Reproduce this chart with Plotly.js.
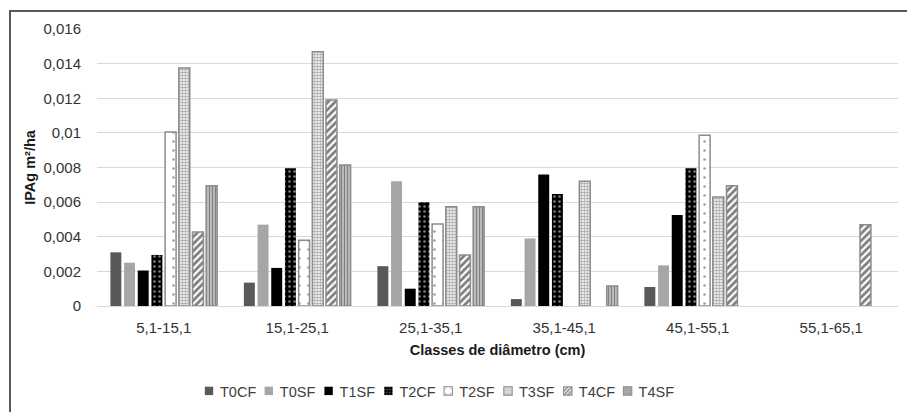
<!DOCTYPE html>
<html>
<head>
<meta charset="utf-8">
<script src="https://cdn.plot.ly/plotly-3.0.1.min.js"></script>
<style>
  html, body { margin: 0; padding: 0; background: #fff; }
  #wrap { position: relative; width: 907px; height: 412px; overflow: hidden; }
  #chart { position: absolute; left: 0; top: 0; width: 907px; height: 412px; }
  #frame { position: absolute; left: 9px; top: 10px; width: 920px; height: 420px;
           border-left: 2px solid #5a5a5a; border-top: 2px solid #5a5a5a; pointer-events: none; }
</style>
</head>
<body>
<div id="wrap">
  <div id="chart"></div>
  <div id="frame"></div>
</div>
<script>
const categories = ["5,1-15,1", "15,1-25,1", "25,1-35,1", "35,1-45,1", "45,1-55,1", "55,1-65,1"];
const seriesNames = ["T0CF", "T0SF", "T1SF", "T2CF", "T2SF", "T3SF", "T4CF", "T4SF"];

const T0CF = [0.0031, 0.00135, 0.0023, 0.0004, 0.0011, null];
const T0SF = [0.0025, 0.0047, 0.0072, 0.0039, 0.00235, null];
const T1SF = [0.00205, 0.0022, 0.001, 0.0076, 0.00525, null];
const T2CF = [0.00295, 0.00795, 0.006, 0.00647, 0.00795, null];
const T2SF = [0.01005, 0.0038, 0.00474, null, 0.00986, null];
const T3SF = [0.01375, 0.01468, 0.00574, 0.0072, 0.0063, null];
const T4CF = [0.00427, 0.0119, 0.00295, null, 0.00695, 0.0047];
const T4SF = [0.00695, 0.00814, 0.00574, 0.00116, null, null];

const yTickVals = [0, 0.002, 0.004, 0.006, 0.008, 0.01, 0.012, 0.014, 0.016];
const yTickText = ["0", "0,002", "0,004", "0,006", "0,008", "0,01", "0,012", "0,014", "0,016"];

const values = [T0CF, T0SF, T1SF, T2CF, T2SF, T3SF, T4CF, T4SF];

const styles = [
  { color: "#595959", line: { color: "#595959", width: 0 } },
  { color: "#a6a6a6", line: { color: "#a6a6a6", width: 0 } },
  { color: "#000000", line: { color: "#000000", width: 0 } },
  { color: "#000000", line: { color: "#000000", width: 0 },
    pattern: { shape: ".", fgcolor: "#ffffff", bgcolor: "#000000", size: 5, solidity: 0.2, fillmode: "overlay" } },
  { color: "#ffffff", line: { color: "#8c8c8c", width: 1.5 },
    pattern: { shape: ".", fgcolor: "#333333", bgcolor: "#ffffff", size: 9, solidity: 0.06, fillmode: "overlay" } },
  { color: "#ffffff", line: { color: "#8c8c8c", width: 1.5 },
    pattern: { shape: ".", fgcolor: "#555555", bgcolor: "#ffffff", size: 3, solidity: 0.6, fillmode: "overlay" } },
  { color: "#ffffff", line: { color: "#8c8c8c", width: 1.5 },
    pattern: { shape: "/", fgcolor: "#000000", bgcolor: "#ffffff", size: 5, solidity: 0.55, fillmode: "overlay" } },
  { color: "#ffffff", line: { color: "#8c8c8c", width: 1.5 },
    pattern: { shape: "|", fgcolor: "#000000", bgcolor: "#ffffff", size: 3, solidity: 0.7, fillmode: "overlay" } }
];

const traces = seriesNames.map((name, i) => ({
  type: "bar",
  name: name,
  x: categories,
  y: values[i],
  marker: styles[i],
  hoverinfo: "x+y+name"
}));

const layout = {
  width: 907,
  height: 412,
  margin: { l: 97, r: 9, t: 29, b: 106 },
  paper_bgcolor: "rgba(0,0,0,0)",
  plot_bgcolor: "rgba(0,0,0,0)",
  font: { family: "Liberation Sans, Arial, sans-serif", size: 14.5, color: "#333333" },
  barmode: "group",
  bargap: 0.18,
  bargroupgap: 0.2,
  showlegend: true,
  legend: {
    orientation: "h",
    xref: "container",
    yref: "container",
    x: 189 / 907,
    xanchor: "left",
    y: 0.051,
    yanchor: "middle",
    itemwidth: 30,
    entrywidth: 14.8,
    traceorder: "normal",
    font: { size: 14.5, color: "#404040" }
  },
  xaxis: {
    type: "category",
    showgrid: false,
    zeroline: false,
    showline: false,
    ticks: "",
    ticklabelstandoff: 11,
    tickfont: { size: 15, color: "#333333" },
    automargin: false,
    title: { text: "Classes de diâmetro (cm)", font: { size: 14.5, color: "#1a1a1a", weight: "bold" }, standoff: 9 }
  },
  yaxis: {
    range: [0, 0.016],
    tickvals: yTickVals,
    ticktext: yTickText,
    showgrid: true,
    gridcolor: "#d9d9d9",
    gridwidth: 1,
    zeroline: true,
    zerolinecolor: "#d9d9d9",
    zerolinewidth: 1,
    showline: false,
    ticks: "",
    ticklabelstandoff: 15,
    tickfont: { size: 15, color: "#333333" },
    automargin: false,
    title: { text: "IPAg m²/ha", font: { size: 14.5, color: "#1a1a1a", weight: "bold" }, standoff: 4 }
  }
};

Plotly.newPlot("chart", traces, layout, { displayModeBar: false, staticPlot: true }).then(gd => {
  // tighten legend entries: smaller symbols, text closer to them, no clipping
  gd.querySelectorAll(".legend .scrollbox").forEach(sb => sb.removeAttribute("clip-path"));
  gd.querySelectorAll(".legend .traces").forEach(item => {
    const txt = item.querySelector(".legendtext");
    if (txt) txt.setAttribute("x", 31);
    item.querySelectorAll(".legendpoints path").forEach(p => {
      const tr = p.getAttribute("transform") || "";
      p.setAttribute("transform", tr + " scale(0.7)");
    });
  });
});
</script>
</body>
</html>
